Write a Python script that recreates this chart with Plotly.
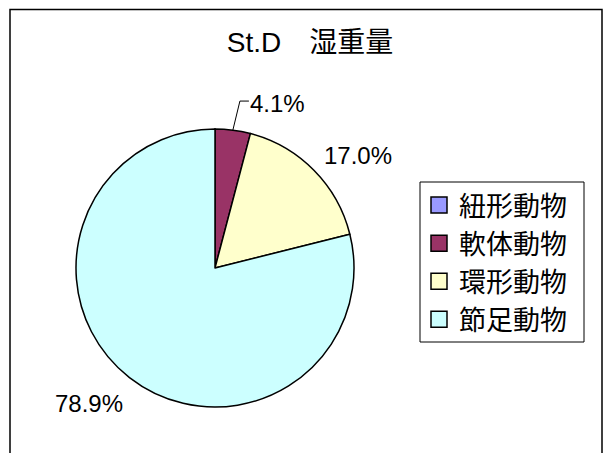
import math
import plotly.graph_objects as go

# ---- data ----
title_text = "St.D\u3000湿重量"
categories = ["紐形動物", "軟体動物", "環形動物", "節足動物"]
values = [0.0, 4.1, 17.0, 78.9]
colors = ["#9999FF", "#993366", "#FFFFCC", "#CCFFFF"]

W, H = 608, 453
# pie geometry in pixels
CX, CY, R = 215, 268, 139

def px(x):
    return x / W

def py(y):
    return 1 - y / H

NUM_FONT = dict(family="Liberation Sans, Arial", size=24, color="black")
CJK_FONT = "Liberation Sans, Arial, Noto Sans CJK JP"

fig = go.Figure()
fig.add_trace(go.Pie(
    labels=categories,
    values=values,
    sort=False,
    direction="clockwise",
    rotation=0,
    marker=dict(colors=colors, line=dict(color="black", width=1.5)),
    textinfo="none",
    hoverinfo="label+percent",
    showlegend=False,
    domain=dict(x=[px(CX - R), px(CX + R)], y=[py(CY + R), py(CY - R)]),
))

# legend entries built from the same arrays
for cat, col in zip(categories, colors):
    fig.add_trace(go.Scatter(
        x=[None], y=[None], mode="markers", name=cat, legendgroup=cat,
        marker=dict(symbol="square", size=16, color=col, line=dict(color="black", width=1.5)),
        hoverinfo="skip",
    ))

# data labels positioned from slice angles
total = sum(values)
cum = 0.0
annotations = []
shapes = []
label_cfg = {  # category -> (angle offset deg, distance factor)
    "軟体動物": (13.5, 1.27),
    "環形動物": (6.5, 1.31),
    "節足動物": (5.0, 1.33),
}
for cat, v in zip(categories, values):
    mid = (cum + v / 2) / total * 360.0
    cum += v
    if v <= 0:
        continue
    off, fac = label_cfg[cat]
    a = math.radians(mid + off)
    lx = CX + fac * R * math.sin(a)
    ly = CY - fac * R * math.cos(a)
    annotations.append(dict(
        x=px(lx), y=py(ly), xref="paper", yref="paper",
        text=f"{v / total * 100:.1f}%", showarrow=False,
        xanchor="center", yanchor="middle", font=NUM_FONT,
    ))
    if v / total < 0.08:
        am = math.radians(mid)
        ex, ey = CX + R * math.sin(am), CY - R * math.cos(am)
        kx, ky = lx - 38, ly - 2
        shapes.append(dict(
            type="path", xref="paper", yref="paper",
            path=f"M {px(ex)} {py(ey)} L {px(kx)} {py(ky)} L {px(kx + 9)} {py(ky)}",
            line=dict(color="black", width=1),
        ))

# outer chart border (bottom edge falls outside the picture)
shapes.append(dict(type="rect", xref="paper", yref="paper",
                   x0=px(10), x1=px(602), y0=-0.2, y1=py(9.5),
                   line=dict(color="black", width=1.5), fillcolor="rgba(0,0,0,0)"))
# legend frame
shapes.append(dict(type="rect", xref="paper", yref="paper",
                   x0=px(420), x1=px(584), y0=py(342), y1=py(182),
                   line=dict(color="black", width=1), fillcolor="rgba(0,0,0,0)"))

fig.update_layout(
    width=W, height=H,
    margin=dict(l=0, r=0, t=0, b=0),
    paper_bgcolor="white", plot_bgcolor="white",
    title=dict(text=title_text, x=px(310), y=py(42), xanchor="center", yanchor="middle",
               font=dict(family=CJK_FONT, size=28, color="black")),
    xaxis=dict(visible=False), yaxis=dict(visible=False),
    showlegend=True,
    legend=dict(
        x=px(419), y=py(181), xanchor="left", yanchor="top",
        borderwidth=0, bgcolor="rgba(0,0,0,0)",
        font=dict(family=CJK_FONT, size=27, color="black"),
        tracegroupgap=0, itemclick=False,
    ),
    annotations=annotations,
    shapes=shapes,
)

fig.write_html("out.html", config={"displayModeBar": False},
               post_script="document.body.style.margin='0';")
